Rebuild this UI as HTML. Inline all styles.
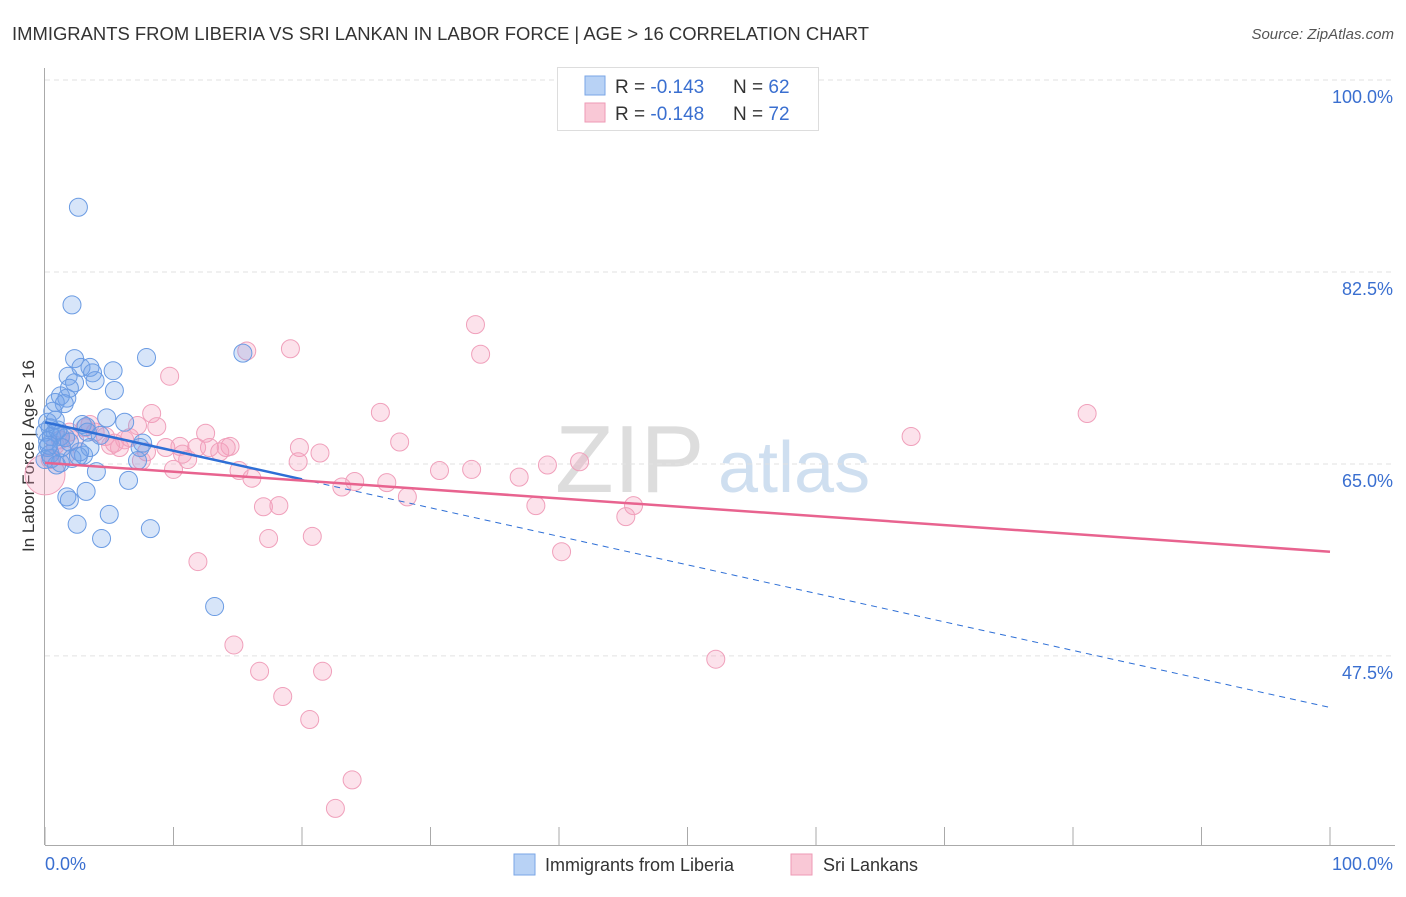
<!DOCTYPE html>
<html><head><meta charset="utf-8"><style>
body{margin:0;background:#fff;font-family:"Liberation Sans",sans-serif;}
svg text{font-family:"Liberation Sans",sans-serif;}
</style></head><body>
<svg id="chart" width="1406" height="892" xmlns="http://www.w3.org/2000/svg">
<text x="12" y="40" font-size="18" fill="#333" textLength="857" lengthAdjust="spacingAndGlyphs">IMMIGRANTS FROM LIBERIA VS SRI LANKAN IN LABOR FORCE | AGE &gt; 16 CORRELATION CHART</text>
<text x="1394" y="39" font-size="15" fill="#555" text-anchor="end" font-style="italic">Source: ZipAtlas.com</text>
<text x="34" y="456" font-size="17" fill="#333" text-anchor="middle" transform="rotate(-90 34 456)">In Labor Force | Age &gt; 16</text>
<g>
<text x="555" y="492" font-size="96" fill="#ddd" font-family="Liberation Serif,serif">ZIP</text>
<text x="718" y="492" font-size="72" fill="#cfdff0">atlas</text>
</g>
<g id="grid"></g><g id="axes"></g><g id="marks"></g>
<g>
<rect x="557.5" y="67.5" width="261" height="63" fill="#fff" stroke="#ddd"/>
<rect x="585" y="76" width="20" height="19" fill="#b8d2f5" stroke="#7aa6e6"/>
<rect x="585" y="103" width="20" height="19" fill="#f9c8d6" stroke="#ee9ab5"/>
<text x="615" y="93" font-size="19" fill="#333">R = <tspan fill="#3a6fd0">-0.143</tspan></text>
<text x="733" y="93" font-size="19" fill="#333">N = <tspan fill="#3a6fd0">62</tspan></text>
<text x="615" y="120" font-size="19" fill="#333">R = <tspan fill="#3a6fd0">-0.148</tspan></text>
<text x="733" y="120" font-size="19" fill="#333">N = <tspan fill="#3a6fd0">72</tspan></text>
</g>
<g>
<rect x="514" y="854" width="21" height="21" fill="#b8d2f5" stroke="#7aa6e6"/>
<text x="545" y="871" font-size="18" fill="#333">Immigrants from Liberia</text>
<rect x="791" y="854" width="21" height="21" fill="#f9c8d6" stroke="#ee9ab5"/>
<text x="823" y="871" font-size="18" fill="#333">Sri Lankans</text>
</g>
</svg>
<script>
const yTicks=[100,82.5,65,47.5];
const yTickLabels=["100.0%","82.5%","65.0%","47.5%"];
const xTicks=[0,10,20,30,40,50,60,70,80,90,100];
const blueX=[2.6,2.1,2.3,2.8,3.5,5.3,1.8,3.7,2.3,1.9,3.9,5.4,1.2,1.7,0.8,1.5,0.6,4.8,6.2,2.9,3.2,0.4,0.8,0.0,0.5,1.2,1.6,0.2,3.3,7.9,15.4,7.6,7.4,2.7,3.0,3.5,0.4,1.2,2.1,7.2,4.0,6.5,3.2,1.7,1.9,5.0,2.5,4.4,8.2,13.2,0.2,0.0,0.5,2.6,4.3,1.0,0.2,1.9,1.3,0.8,0.3,0.9];
const blueY=[88.4,79.5,74.6,73.8,73.8,73.5,73.0,73.3,72.4,71.9,72.6,71.7,71.2,71.0,70.6,70.5,69.8,69.2,68.8,68.6,68.4,68.3,67.9,67.9,67.5,67.5,67.4,67.1,67.9,74.7,75.1,66.9,66.5,66.1,65.8,66.5,65.9,65.1,65.5,65.3,64.3,63.5,62.5,62.0,61.7,60.4,59.5,58.2,59.1,52.0,66.5,65.4,65.5,65.7,67.6,68.1,68.8,67.0,66.5,69.0,66.7,64.9];
const pinkX=[0.0,19.1,15.7,33.5,33.9,9.7,8.3,26.1,81.1,67.4,8.7,7.2,12.5,14.4,19.8,27.6,4.7,5.4,6.2,6.6,5.1,10.5,10.7,11.1,11.8,12.8,13.6,14.1,21.4,19.7,24.1,26.6,23.1,28.2,30.7,33.2,36.9,39.1,41.6,38.2,45.8,45.2,15.1,16.1,17.0,18.2,17.4,20.8,40.2,11.9,14.7,16.7,18.5,21.6,20.6,23.9,22.6,52.2,1.2,1.9,3.1,3.9,0.8,1.6,2.3,0.4,7.9,9.4,10.0,7.5,5.8,3.5];
const pinkY=[64.0,75.5,75.3,77.7,75.0,73.0,69.6,69.7,69.6,67.5,68.4,68.5,67.8,66.6,66.5,67.0,67.5,66.9,67.2,67.4,66.7,66.6,65.9,65.4,66.5,66.5,66.1,66.5,66.0,65.2,63.4,63.3,62.9,62.0,64.4,64.5,63.8,64.9,65.2,61.2,61.2,60.2,64.4,63.7,61.1,61.2,58.2,58.4,57.0,56.1,48.5,46.1,43.8,46.1,41.7,36.2,33.6,47.2,67.2,67.9,68.3,67.9,66.7,65.8,67.2,65.4,66.1,66.5,64.5,65.3,66.5,68.6];
const blueTrend=[68.8,42.8];
const pinkTrend=[65.1,57.0];
const blueSolidEnd=20;

const NS="http://www.w3.org/2000/svg";
const X0=45,X1=1330,Y100=80,PXPER=10.97;
function sx(v){return X0+(X1-X0)*v/100;}
function sy(v){return Y100+(100-v)*PXPER;}
function mk(tag,attrs,parent){const e=document.createElementNS(NS,tag);for(const k in attrs)e.setAttribute(k,attrs[k]);parent.appendChild(e);return e;}
const grid=document.getElementById('grid'),axes=document.getElementById('axes'),marks=document.getElementById('marks');
yTicks.forEach((t,i)=>{
  const l=mk('line',{x1:45,x2:1395,y1:sy(t),y2:sy(t),stroke:'#e2e2e2','stroke-dasharray':'5,4'},grid);
  
  
  const tx=mk('text',{x:1393,y:sy(t)+23,'font-size':18,fill:'#3a6fd0','text-anchor':'end'},axes);
  tx.textContent=yTickLabels[i];
  
  
});
const ax=mk('line',{x1:44.5,x2:44.5,y1:68,y2:845,stroke:'#aaa'},axes);


const bx=mk('line',{x1:45,x2:1395,y1:845.5,y2:845.5,stroke:'#aaa'},axes);


xTicks.forEach(t=>{
  const l=mk('line',{x1:sx(t),x2:sx(t),y1:827,y2:845,stroke:'#aaa'},axes);
  
  
});
const xl0=mk('text',{x:45,y:870,'font-size':18,fill:'#3a6fd0'},axes);xl0.textContent='0.0%';


const xl1=mk('text',{x:1393,y:870,'font-size':18,fill:'#3a6fd0','text-anchor':'end'},axes);xl1.textContent='100.0%';



pinkX.forEach((v,i)=>{
  const c=mk('circle',{cx:sx(v),cy:sy(pinkY[i]),r:i===0?20:9,fill:'rgba(244,160,188,0.3)',stroke:'#f0a0bb','stroke-width':1},marks);
  
  
});
blueX.forEach((v,i)=>{
  const c=mk('circle',{cx:sx(v),cy:sy(blueY[i]),r:9,fill:'rgba(110,160,235,0.28)',stroke:'#6a9be3','stroke-width':1},marks);
  
  
});
function ty(tr,x){return tr[0]+(tr[1]-tr[0])*x/100;}
const bs=mk('line',{x1:sx(0),y1:sy(ty(blueTrend,0)),x2:sx(blueSolidEnd),y2:sy(ty(blueTrend,blueSolidEnd)),stroke:'#2e6fd6','stroke-width':2.5},marks);


const bd=mk('line',{x1:sx(blueSolidEnd),y1:sy(ty(blueTrend,blueSolidEnd)),x2:sx(100),y2:sy(ty(blueTrend,100)),stroke:'#2e6fd6','stroke-width':1,'stroke-dasharray':'6,5'},marks);


const pl=mk('line',{x1:sx(0),y1:sy(pinkTrend[0]),x2:sx(100),y2:sy(pinkTrend[1]),stroke:'#e8638f','stroke-width':2.5},marks);


</script>
</body></html>
